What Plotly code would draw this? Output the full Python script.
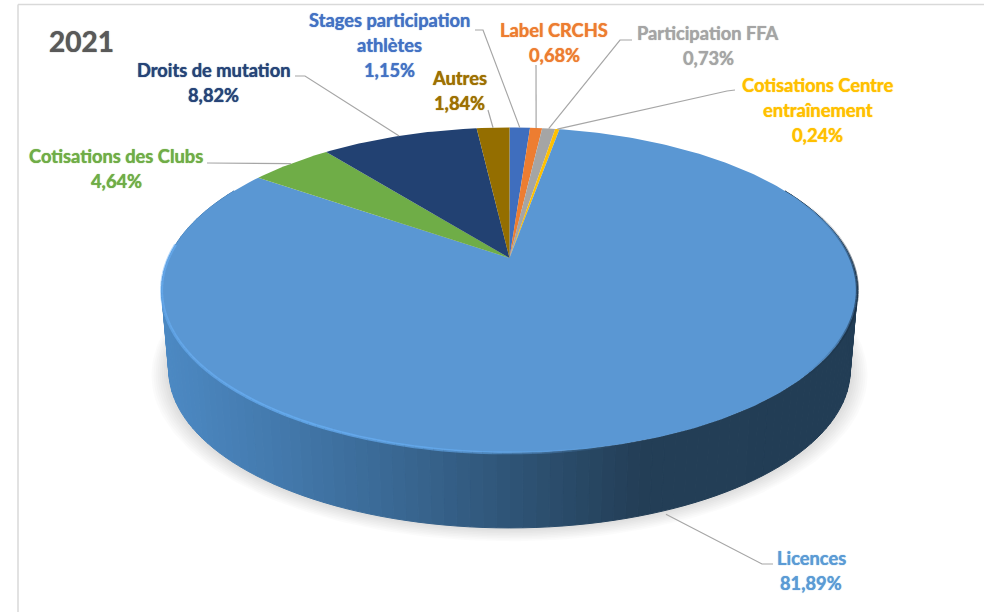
import math
import plotly.graph_objects as go

# ---- data (clockwise from the top of the pie) ----
categories = ["Stages participation athlètes", "Label CRCHS", "Participation FFA",
              "Cotisations Centre entraînement", "Licences", "Cotisations des Clubs",
              "Droits de mutation", "Autres"]
values = [1.15, 0.68, 0.73, 0.24, 81.89, 4.64, 8.82, 1.84]
title_text = "2021"

slice_colors = ["#3F6EBE", "#ED7D31", "#A5A5A5", "#FFC000", "#5A97D3", "#6FAD47", "#224172", "#946E00"]
label_colors = ["#4472C4", "#ED7D31", "#A5A5A5", "#FFC000", "#5B9BD5", "#70AD47", "#264478", "#9E7001"]

# label lines: category text split as in the picture, placement of each block
label_lines = [["Stages participation", "athlètes"], ["Label CRCHS"], ["Participation FFA"],
               ["Cotisations Centre", "entraînement"], ["Licences"], ["Cotisations des Clubs"],
               ["Droits de mutation"], ["Autres"]]
label_pos = [(389, 20), (554, 30), (708, 33), (817.5, 85), (811, 558), (116, 156), (213, 70), (459, 78)]
# leader elbows, ending on the rim at the slice middle
leader_elbows = [[(475, 30), (483, 30)], [(536, 65)], [(632, 40), (620, 40)], [(735, 90), (727, 91)],
                 [(773, 564), (762, 564)], [(207, 163), (215, 163)], [(295, 76), (305, 76)], [(488, 110)]]
LINE_H = 25

# ---- projection of the disc ----
CX, R, PERSP = 509.5, 341.0, 0.198
TOP_A, TOP_B = 258.0, -105.2
BOT_R, BOT_A, BOT_B = 334.0, 338.7, -84.7


def top_pt(th):
    u, v = math.sin(th), math.cos(th)
    d = 1 + PERSP * v
    return CX + R * u / d, (TOP_A + TOP_B * v) / d


def bot_pt(th, grow=0.0, dy=0.0):
    u, v = math.sin(th), math.cos(th)
    d = 1 + PERSP * v
    return CX + (BOT_R + grow) * u / d, (BOT_A + (BOT_B - grow * 0.47) * v) / d + dy


def lerp_stops(stops, x):
    if x <= stops[0][0]:
        return stops[0][1]
    for (x0, c0), (x1, c1) in zip(stops, stops[1:]):
        if x <= x1:
            t = (x - x0) / (x1 - x0)
            return tuple(c0[i] + (c1[i] - c0[i]) * t for i in range(len(c0)))
    return stops[-1][1]


def rgb(c):
    if len(c) == 3:
        return "rgb(%d,%d,%d)" % tuple(round(a) for a in c)
    return "rgba(%d,%d,%d,%.3f)" % (round(c[0]), round(c[1]), round(c[2]), c[3])


fig = go.Figure()


def poly(pts, color, line=None):
    fig.add_trace(go.Scatter(
        x=[p[0] for p in pts] + [pts[0][0]], y=[p[1] for p in pts] + [pts[0][1]],
        mode="lines", fill="toself", fillcolor=color,
        line=dict(color=line or color, width=1 if line else 0),
        hoverinfo="skip", showlegend=False))


def seg(pts, color, width):
    fig.add_trace(go.Scatter(x=[p[0] for p in pts], y=[p[1] for p in pts], mode="lines",
                             line=dict(color=color, width=width), hoverinfo="skip", showlegend=False))


TAU = 2 * math.pi
full = [i * TAU / 240 for i in range(240)]

# soft shadow under the disc
for g in (17, 15, 13, 11, 9, 7, 5, 3, 1):
    poly([bot_pt(t, grow=g, dy=g * 0.2) for t in full], "rgba(0,0,0,0.014)")

# side wall of the front slice, shaded along x
side_stops = [(165, (76, 137, 195)), (280, (67, 121, 172)), (400, (57, 103, 146)),
              (540, (44, 79, 111)), (640, (35, 62, 86)), (860, (34, 61, 85))]
n = 130
for i in range(n):
    a = math.radians(62) + (math.radians(298) - math.radians(62)) * i / n
    b = math.radians(62) + (math.radians(298) - math.radians(62)) * (i + 1) / n
    q = [top_pt(a), top_pt(b), bot_pt(b), bot_pt(a)]
    col = rgb(lerp_stops(side_stops, sum(p[0] for p in q) / 4))
    poly(q, col, line=col)

# top face: one wedge per value
total = sum(values)
apex = (CX, TOP_A)
start = 0.0
mids = []
for val, col in zip(values, slice_colors):
    a0 = start / total * TAU
    a1 = (start + val) / total * TAU
    steps = max(2, int(val * 4))
    rim = [top_pt(a0 + (a1 - a0) * k / steps) for k in range(steps + 1)]
    poly([apex] + rim, col)
    mids.append((a0 + a1) / 2)
    start += val

# rim light on the front-left edge, dark edge on the right
rim_stops = [(162, (108, 178, 248, 0.55)), (300, (104, 176, 246, 0.75)), (480, (104, 176, 246, 0.55)),
             (620, (104, 176, 246, 0.0)), (800, (25, 45, 65, 0.0)), (835, (25, 45, 65, 0.22)),
             (860, (25, 45, 65, 0.7))]
m = 160
for i in range(m):
    a = math.radians(60) + math.radians(275 - 60) * i / m
    b = math.radians(60) + math.radians(275 - 60) * (i + 1) / m
    p, r = top_pt(a), top_pt(b)
    c = lerp_stops(rim_stops, (p[0] + r[0]) / 2)
    if c[3] > 0.02:
        seg([p, r], rgb(c), 3)

# leader lines
for i, elbows in enumerate(leader_elbows):
    th = mids[i]
    end = bot_pt(th, dy=4) if math.cos(th) < 0 else top_pt(th)
    seg(list(elbows) + [end], "#A6A6A6", 1.2)

# labels
annots = []


def text(x, y, s, color, size=18.3):
    annots.append(dict(x=x, y=y, xref="x", yref="y", text=s, showarrow=False, xanchor="center", yanchor="middle",
                       font=dict(family="Lato", size=size, color=color, weight="bold",
                                 shadow="0 0 1px " + color)))


for i, lines in enumerate(label_lines):
    x, y = label_pos[i]
    pct = f"{values[i]:.2f}".replace(".", ",") + "%"
    for k, s in enumerate(lines + [pct]):
        text(x, y + k * LINE_H, s, label_colors[i])
text(81, 41, title_text, "#595959", size=28)

# frame of the chart area
shapes = [
    dict(type="line", xref="x", yref="y", x0=18, x1=18, y0=4.5, y1=612, line=dict(color="#D9D9D9", width=1.5)),
    dict(type="line", xref="x", yref="y", x0=18, x1=984, y0=4.5, y1=4.5, line=dict(color="#D9D9D9", width=1.5)),
]

fig.update_layout(
    width=984, height=612, autosize=False, showlegend=False,
    margin=dict(l=0, r=0, t=0, b=0), paper_bgcolor="white", plot_bgcolor="white",
    xaxis=dict(range=[0, 984], visible=False, fixedrange=True),
    yaxis=dict(range=[612, 0], visible=False, fixedrange=True),
    annotations=annots, shapes=shapes,
)
fig.write_html("out.html", post_script="document.body.style.margin='0';", config={"displayModeBar": False})
